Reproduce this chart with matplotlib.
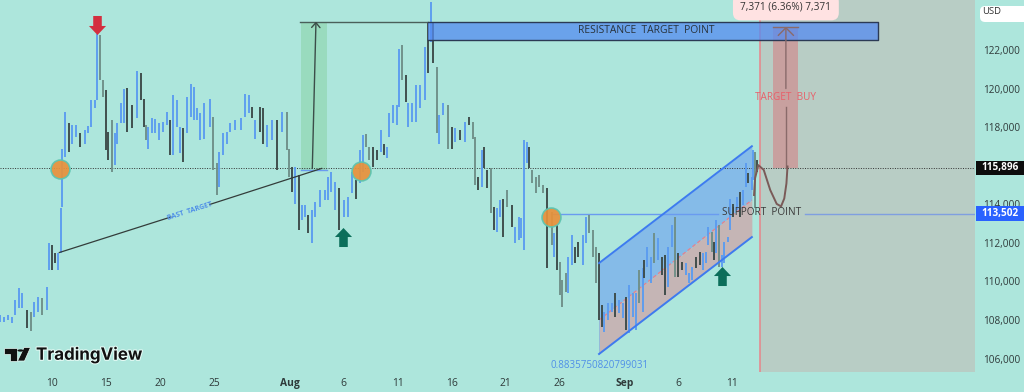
import numpy as np
import matplotlib
matplotlib.use("Agg")
import matplotlib.pyplot as plt
import matplotlib.patheffects as pe
from matplotlib.path import Path
from matplotlib.patches import Polygon, Circle, FancyBboxPatch, Rectangle

# ---- bar data: day counted from 1 July = 1, prices in thousands of USD ----
bar_day = [5.19,5.56,5.93,6.30,6.57,6.94,7.25,7.65,8.02,8.36,8.67,9.1,9.5,9.75,9.97,10.28,10.59,10.8,10.93,11.2,11.57,11.82,12.22,12.59,13.06,13.36,13.61,13.98,14.2,14.44,14.75,15.0,15.22,15.56,15.83,16.05,16.36,16.67,16.91,17.44,17.84,18.24,18.52,18.67,18.92,19.23,19.54,19.94,20.31,20.62,20.93,21.23,21.54,21.85,22.1,22.53,22.84,23.15,23.4,23.7,24.07,24.63,24.94,25.25,25.49,25.8,26.17,26.48,26.94,27.47,27.87,28.27,28.49,28.8,29.26,29.57,29.88,30.34,30.8,31.27,31.73,31.98,32.19,32.5,32.87,33.12,33.43,33.73,34.04,34.35,34.81,35.28,35.59,35.8,36.2,36.6,
 37.04,37.44,37.75,38.15,38.52,38.77,39.07,39.38,39.69,40.06,40.43,40.74,41.05,41.23,41.6,41.91,42.16,42.44,42.75,42.99,43.3,43.7,44.07,44.54,44.85,45.06,45.31,45.62,45.83,46.23,46.63,47.0,47.31,47.78,48.24,48.64,48.95,49.2,49.48,49.78,50.03,50.31,50.65,50.93,51.17,51.48,51.73,52.16,52.56,52.9,53.24,53.4,53.67,54.02,54.2,54.48,54.82,55.12,55.49,55.86,56.27,56.48,56.79,57.04,57.25,57.59,57.81,58.12,58.42,58.73,59.14,59.44,59.75,60.12,60.37,
 60.68,60.9,61.11,61.51,61.82,62.13,62.53,62.84,63.15,63.45,63.76,64.07,64.38,64.69,64.81,65.12,65.46,65.74,66.14,66.45,66.76,67.07,67.44,67.69,68.0,68.37,68.67,68.98,69.29,69.63,70.0,70.25,70.52,70.77,71.08,71.3,71.48,71.76,72.01,72.25,72.62,72.78,73.09,73.39,73.7,74.01,74.26,74.47,74.78,74.88,75.06,75.31]
bar_high = [108.26,108.17,108.26,108.17,109.04,109.64,109.38,108.52,108.43,108.95,109.21,109.12,109.73,111.97,111.89,111.45,111.45,113.79,116.89,118.79,118.19,118.1,118.1,117.67,117.84,118.05,119.4,119.4,122.85,122.77,120.43,119.92,117.76,118.36,117.67,118.19,119.23,120.0,120.05,119.14,120.92,120.81,119.48,118.1,118.02,118.45,118.4,118.19,118.28,118.79,118.36,119.66,119.4,118.02,117.93,119.57,120.26,120.09,118.97,118.71,119.23,119.48,118.53,116.12,116.72,117.67,117.76,118.19,118.36,118.45,119.74,119.66,119.05,118.36,119.05,118.97,118.1,118.36,118.36,118.79,118.79,116.89,115.94,115.94,115.51,113.96,113.96,113.44,113.7,114.13,114.74,114.74,115.43,115.69,115.17,114.82,
 114.22,114.39,115.69,115.25,116.81,117.58,117.62,116.98,116.98,116.81,117.84,117.15,116.98,118.71,119.14,119.14,122.07,122.25,120.69,119.23,119.23,120.18,120.18,122.16,123.46,124.49,123.46,121.13,118.62,119.23,119.14,118.02,117.93,117.84,118.28,118.53,118.28,117.5,115.43,116.81,116.98,115.77,115.86,113.87,113.79,114.22,114.3,114.74,113.96,112.84,113.35,113.27,117.33,117.24,116.98,115.77,115.43,115.51,114.99,114.82,113.61,112.49,112.92,111.02,110.07,110.42,111.28,112.4,111.8,112.06,112.4,113.35,113.44,112.66,111.8,
 111.45,108.78,108.43,108.86,108.86,109.38,109.04,108.86,109.21,109.81,109.38,109.38,110.59,110.68,111.11,111.8,111.28,112.49,112.23,111.28,111.37,111.8,112.92,113.35,111.45,111.02,110.94,110.42,110.76,111.28,111.54,111.45,111.54,112.84,112.58,112.06,113.18,112.92,111.37,112.06,112.32,114.3,114.04,114.39,114.65,114.74,116.12,115.6,115.43,116.81,116.72,116.29]
bar_low = [107.91,107.91,108.0,107.86,108.26,108.6,108.6,107.57,107.45,108.17,108.43,108.26,108.52,110.59,110.59,110.94,110.59,111.45,113.87,116.46,116.72,117.15,117.5,116.98,117.15,117.67,118.02,118.97,119.4,120.43,119.57,116.81,116.29,115.69,116.03,117.15,118.19,118.19,117.76,117.93,118.45,119.4,118.02,117.33,116.89,117.67,117.67,117.33,117.76,118.1,116.55,116.55,118.02,116.64,116.17,117.67,118.53,118.36,118.36,117.33,117.36,118.02,115.77,114.48,114.91,116.55,117.15,117.76,117.84,117.84,118.53,118.71,118.45,117.41,117.76,117.15,116.98,117.33,115.77,117.76,116.81,115.43,114.65,114.04,112.66,113.18,113.35,112.49,111.97,113.35,113.87,114.22,114.22,114.65,113.7,112.66,
 113.35,113.35,114.56,114.3,115.08,115.69,116.98,116.29,115.94,116.29,116.72,116.55,116.38,117.5,118.19,118.1,119.05,120.43,119.31,118.02,118.28,118.28,118.97,119.4,120.78,122.42,121.3,117.67,117.15,118.62,116.89,116.89,117.24,117.33,117.24,118.1,117.41,115.0,114.74,114.91,115.86,114.82,113.53,112.66,112.58,113.35,112.32,113.87,112.84,111.97,112.14,112.23,111.63,116.12,115.86,115.08,114.56,114.91,114.56,110.68,111.89,111.28,110.59,109.3,108.69,109.47,109.38,110.85,110.94,111.28,110.85,111.97,112.49,111.28,109.9,
 108.0,107.65,107.4,108.0,108.43,108.17,108.35,108.09,107.48,107.31,108.17,107.48,108.86,108.43,110.16,110.76,109.9,110.94,111.11,110.33,109.3,109.73,111.8,110.25,110.25,110.59,110.33,109.9,110.07,110.68,110.85,110.59,110.94,111.89,111.54,111.11,111.45,110.76,110.76,110.94,112.06,112.66,113.35,113.7,113.35,113.96,114.91,115.08,114.74,115.25,113.79,115.68]
dark_days = [7.65,9.97,10.28,11.57,12.59,15.0,15.22,16.91,17.44,18.24,18.52,20.93,22.1,28.49,29.26,29.57,30.8,32.19,32.87,33.73,36.6,
 38.15,39.69,40.06,40.74,42.75,44.85,45.31,47.0,47.78,48.64,49.48,50.03,50.31,50.93,51.73,52.56,54.2,55.86,56.79,58.42,58.73,60.68,
 60.9,62.13,63.15,64.81,66.45,66.76,68.0,68.37,69.63,70.0,71.3,73.09,73.7,74.47,75.31]
grey_days = [8.02,9.1,14.44,14.75,15.56,18.67,24.94,25.25,31.73,31.98,39.07,39.38,42.44,45.62,46.63,48.95,49.2,50.65,52.16,54.48,54.82,55.12,55.49,56.27,57.04,57.25,57.59,59.75,60.12,60.37,
 64.38,65.74,67.69,71.08,71.76,75.06]

# ---- axis ticks ----
x_tick_days = [10,15,20,25,32,37,42,47,52,57,63,68,73]
x_tick_labels = ['10','15','20','25','Aug','6','11','16','21','26','Sep','6','11']
y_tick_values = [106000,108000,110000,112000,114000,116000,118000,120000,122000]
y_tick_labels = ['106,000','108,000','110,000','112,000','114,000','','118,000','120,000','122,000']
last_price = 115896
support_price = 113502

# ---- drawing annotations, in days and USD ----
channel_days = [60.65, 74.8]
channel_top = [110950, 117010]
channel_mid = [108000, 114220]
channel_bottom = [106240, 112300]
trend_days = [10.68, 21.0, 24.6, 34.97]
trend_prices = [111500, 113340, 113990, 115860]
circle_days = [10.74, 38.6, 56.18]
circle_prices = [115820, 115720, 113350]
up_arrow_days = [36.94, 72.04]
up_arrow_prices = [112300, 110300]
down_arrow_day = [14.21]
down_arrow_price = [123310]
curve_days = [75.0,75.1,75.4,75.9,76.5,77.1,77.5,77.8,78.0,78.1]
curve_prices = [114480,115360,116030,115780,114740,114020,113890,114300,115080,115960]

BG = '#ade6dc'
plt.rcParams['font.family'] = ['Open Sans', 'DejaVu Sans']
fig = plt.figure(figsize=(10.24, 3.92), dpi=100, facecolor=BG)
ax = fig.add_axes([0, 20/392, 975/1024, 372/392], facecolor=BG)
ax.set_xlim(5.185, 95.46)
ax.set_ylim(105306, 124590)
for s in ax.spines.values():
    s.set_visible(False)

# ticks
ax.set_xticks(x_tick_days, x_tick_labels, fontsize=7.4, color='#2f3a3a')
ax.yaxis.tick_right()
ax.set_yticks(y_tick_values, y_tick_labels, fontsize=7.2, color='#2f3a3a')
ax.tick_params(axis='both', length=0)
ax.tick_params(axis='y', pad=5.5)
ax.tick_params(axis='x', pad=4.6)
for lb in ax.get_xticklabels():
    if lb.get_text() in ('Aug', 'Sep'):
        lb.set_fontweight('bold')

# backgrounds
ax.axvspan(75.56, 95.46, color='#b8cdc5', lw=0, zorder=1)
ax.fill_between([33.06, 35.46], 115770, 123470, color='#99dbbe', lw=0, zorder=1)
ax.fill_between(channel_days, channel_mid, channel_top, color='#85bbe8', lw=0, zorder=1)
ax.fill_between(channel_days, channel_bottom, channel_mid, color='#c5b5b5', lw=0, zorder=1)
ax.fill_between([76.73, 79.1], 115860, 123200, color='#d8787c', alpha=0.52, lw=0, zorder=1.5)

# bars
days = np.array(bar_day)
colors = ['#3c4a48' if d in dark_days else '#6f8f88' if d in grey_days else '#5b9cf0' for d in bar_day]
ax.vlines(days, np.array(bar_low)*1000, np.array(bar_high)*1000, colors=colors, lw=1.35, zorder=3)

# reference lines
ax.axhline(last_price, color='#333333', lw=0.7, ls=(0, (1, 1.5)), zorder=2)
ax.axvline(75.56, color='#e8848a', lw=1.1, zorder=4)
ax.plot([56.18, 71.67], [support_price]*2, color='#6a9bf0', lw=1, zorder=2)
ax.plot([79.7, 95.46], [support_price]*2, color='#7f9fe0', lw=1, zorder=2)

# channel
ax.plot(channel_days, channel_top, color='#3d7bf0', lw=1.4, zorder=4)
ax.plot(channel_days, channel_bottom, color='#3d7bf0', lw=1.4, zorder=4)
ax.plot(channel_days, channel_mid, color='#e8808a', lw=0.9, ls=(0, (3, 2)), zorder=2)
ax.plot([channel_days[0]]*2, [channel_bottom[0], channel_top[0]], color='#8fb5dc', lw=0.6, zorder=2)

# resistance box
ax.fill_between([44.85, 86.45], 122520, 123470, color='#548bf1', alpha=0.75, lw=0, zorder=5)
ax.plot([44.85, 86.45, 86.45, 44.85], [123470, 123470, 122520, 122520], color='#2b3a55', lw=1, zorder=5)
ax.plot([33.0, 44.85], [123470, 123470], color='#4a5f5a', lw=1, zorder=4)
ax.plot([76.73, 79.1], [123200, 123200], color='#8a6a6a', lw=1, zorder=6)
ax.text(65.05, 122990, 'RESISTANCE  TARGET  POINT', fontsize=7.4, color='#28323a', ha='center', va='center', zorder=7)

# green target
ax.plot([33.1, 35.46], [115780, 115780], color='#6a9bf0', lw=1, zorder=2)
ax.annotate('', xy=(34.44, 123470), xytext=(34.1, 115860),
            arrowprops=dict(arrowstyle='->,head_length=0.35,head_width=0.3', color='#3b4d48', lw=1, shrinkA=0, shrinkB=0), zorder=5)

# trend line with label
ax.plot(trend_days[:2], trend_prices[:2], color='#333c3a', lw=0.9, zorder=4)
ax.plot(trend_days[2:], trend_prices[2:], color='#333c3a', lw=0.9, zorder=4)
ax.text(22.78, 113640, 'BAST  TARGET', fontsize=5.0, color='#4f8fe8', ha='center', va='center', rotation=17.7, fontweight='bold', zorder=5)

# red target arrow and label
ax.plot([77.95, 77.95], [115860, 119050], color='#8a6a6a', lw=1, zorder=6)
ax.annotate('', xy=(77.95, 123200), xytext=(77.95, 120000),
            arrowprops=dict(arrowstyle='->,head_length=0.55,head_width=0.55', color='#8a6a6a', lw=1, shrinkA=0, shrinkB=0), zorder=6)
ax.text(77.9, 119530, 'TARGET  BUY', fontsize=7.2, color='#e8606a', ha='center', va='center', zorder=7)
ax.plot(curve_days, curve_prices, color='#7a5a58', lw=1.4, zorder=6)

# circles
ax.plot(circle_days, circle_prices, 'o', ms=13.6, mfc='#e8913a', mec='#5cc4b0', mew=1.2, alpha=0.92, ls='none', zorder=6)

# arrows
arrow_up = Path([(0,1),(-0.9,0.05),(-0.45,0.05),(-0.45,-1),(0.45,-1),(0.45,0.05),(0.9,0.05),(0,1)], closed=True)
arrow_dn = Path([(0,-1),(-0.9,-0.05),(-0.45,-0.05),(-0.45,1),(0.45,1),(0.45,-0.05),(0.9,-0.05),(0,-1)], closed=True)
ax.plot(up_arrow_days, up_arrow_prices, ls='none', marker=arrow_up, ms=13.7, color='#0b6e5a', mew=0, zorder=7)
ax.plot(down_arrow_day, down_arrow_price, ls='none', marker=arrow_dn, ms=13.7, color='#d32f3f', mew=0, zorder=7)

# texts
ax.text(56.2, 105620, '0.8835750820799031', fontsize=7.0, color='#4f8fe8', ha='left', va='center', zorder=7)
ax.text(75.7, 113550, 'SUPPORT  POINT', fontsize=7.2, color='#3a3a3a', ha='center', va='center', zorder=7)
ax.text(77.95, 124210, '7,371 (6.36%) 7,371', fontsize=7.2, color='#333333', ha='center', va='center', zorder=8,
        bbox=dict(boxstyle='round,pad=0.75', fc='#ffe2e2', ec='none'), clip_on=False)

# price labels on the axis
tr = ax.get_yaxis_transform()
ax.add_patch(Rectangle((1.001, last_price-360), 0.05, 720, transform=tr, fc='#0d0d0d', ec='none', clip_on=False, zorder=8))
ax.add_patch(Rectangle((1.001, support_price-390), 0.05, 780, transform=tr, fc='#2962ff', ec='none', clip_on=False, zorder=8))
ax.text(1.0255, last_price, '115,896', transform=tr, fontsize=7.2, fontweight='bold', color='white', ha='center', va='center', zorder=9, clip_on=False)
ax.text(1.0255, support_price, '113,502', transform=tr, fontsize=7.2, fontweight='bold', color='white', ha='center', va='center', zorder=9, clip_on=False)

# interface furniture in figure pixels
def P(x, y):
    return (x/1024, 1-y/392)

fig.add_artist(FancyBboxPatch(P(980, 22), 50/1024, 16/392, boxstyle='round,pad=0,rounding_size=0.005',
                              transform=fig.transFigure, fc='white', ec='none', mutation_aspect=2.6))
fig.text(*P(982, 11.5), 'USD', fontsize=6.8, color='#333333', ha='left', va='center')

halo = [pe.withStroke(linewidth=1.5, foreground='#e8fbf6')]
for poly in ([(4,347.5),(17,347.5),(17,361),(10,361),(10,353.5),(4,353.5)],
             [(30.5,347.5),(24,347.5),(17.5,361),(24.5,361)]):
    a = Polygon([P(*p) for p in poly], closed=True, transform=fig.transFigure, fc='#111111', ec='#e8fbf6', lw=0.5)
    fig.add_artist(a)
fig.add_artist(Circle(P(20.5, 350.5), 3/1024, transform=fig.transFigure, fc='#111111', ec='none'))
fig.text(*P(36, 355), 'TradingView', fontsize=12.2, fontweight='bold', family=['Inter', 'DejaVu Sans'], color='#111111',
         ha='left', va='center', path_effects=halo)

fig.savefig('out.png', dpi=100, facecolor=BG)
